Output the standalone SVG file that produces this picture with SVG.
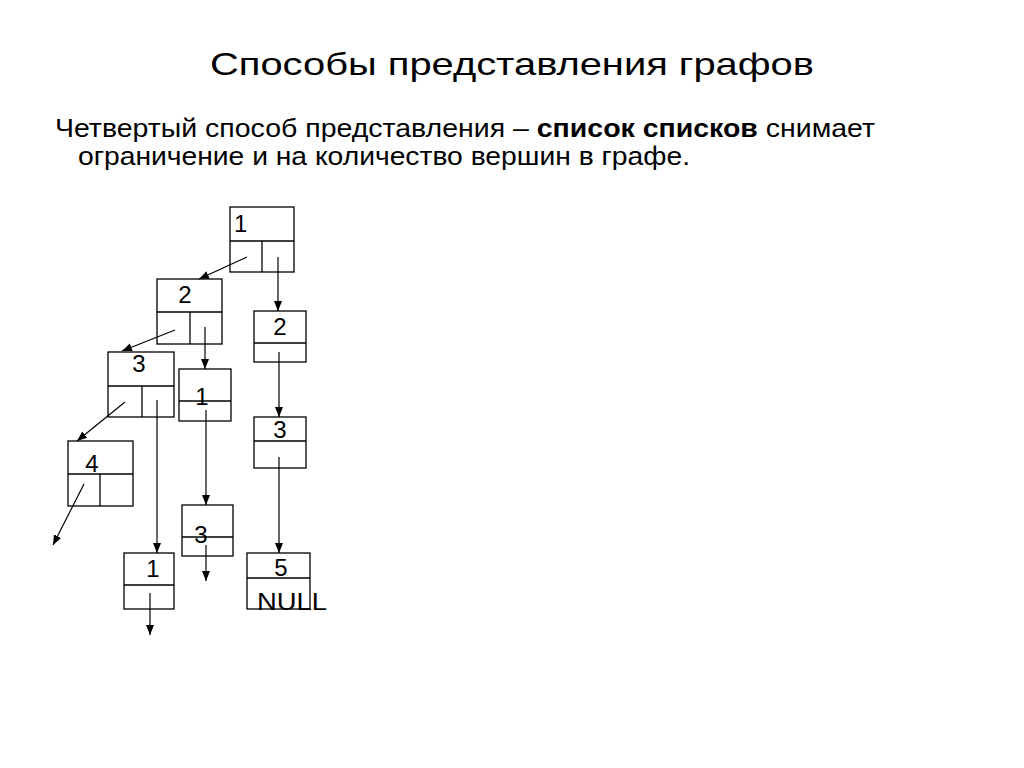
<svg xmlns="http://www.w3.org/2000/svg" width="1024" height="768" viewBox="0 0 1024 768">
<style>
text{font-family:"Liberation Sans",Arial,sans-serif;fill:#000}
.box{fill:#fff;stroke:#000;stroke-width:1.3}
.ln{stroke:#000;stroke-width:1.3;fill:none}
.lbl{font-size:24px}
.c{stroke:#000;stroke-width:1.2;fill:none;marker-end:url(#ah)}
</style>
<defs>
<marker id="ah" markerWidth="10" markerHeight="10" viewBox="0 0 10 10" refX="10" refY="5" orient="auto" markerUnits="userSpaceOnUse">
<path d="M0,1 L10,5 L0,9 Z" fill="#000"/>
</marker>
</defs>
<rect width="1024" height="768" fill="#fff"/>
<text x="512" y="75" font-size="32" text-anchor="middle" textLength="604" lengthAdjust="spacingAndGlyphs">Способы представления графов</text>
<text x="55" y="137" font-size="25" textLength="820" lengthAdjust="spacingAndGlyphs">Четвертый способ представления – <tspan font-weight="bold">список списков</tspan> снимает</text>
<text x="78" y="165" font-size="25" textLength="612" lengthAdjust="spacingAndGlyphs">ограничение и на количество вершин в графе.</text>

<g id="n1">
<rect class="box" x="230" y="207" width="64" height="65"/>
<line class="ln" x1="230" y1="241" x2="294" y2="241"/>
<line class="ln" x1="262" y1="241" x2="262" y2="272"/>
<text class="lbl" x="234" y="232">1</text>
</g>
<g id="n2a">
<rect class="box" x="157" y="279" width="65" height="65"/>
<line class="ln" x1="157" y1="312" x2="222" y2="312"/>
<line class="ln" x1="190" y1="312" x2="190" y2="344"/>
<text class="lbl" x="185" y="303" text-anchor="middle">2</text>
</g>
<g id="n2b">
<rect class="box" x="254" y="311" width="52" height="51"/>
<line class="ln" x1="254" y1="343" x2="306" y2="343"/>
<text class="lbl" x="280" y="335" text-anchor="middle">2</text>
</g>
<g id="n3b">
<rect class="box" x="254" y="417" width="52" height="51"/>
<line class="ln" x1="254" y1="441" x2="306" y2="441"/>
<text class="lbl" x="280" y="438" text-anchor="middle">3</text>
</g>
<g id="n3a">
<rect class="box" x="108" y="352" width="66" height="65"/>
<line class="ln" x1="108" y1="386" x2="174" y2="386"/>
<line class="ln" x1="142" y1="386" x2="142" y2="417"/>
<text class="lbl" x="139" y="372" text-anchor="middle">3</text>
</g>
<g id="n1b">
<rect class="box" x="179" y="369" width="52" height="52"/>
<line class="ln" x1="179" y1="401" x2="231" y2="401"/>
<text class="lbl" x="202" y="405" text-anchor="middle">1</text>
</g>
<g id="n4">
<rect class="box" x="68" y="441" width="65" height="65"/>
<line class="ln" x1="68" y1="474" x2="133" y2="474"/>
<line class="ln" x1="100" y1="474" x2="100" y2="506"/>
<text class="lbl" x="92" y="472" text-anchor="middle">4</text>
</g>
<g id="n3c">
<rect class="box" x="182" y="505" width="51" height="51"/>
<line class="ln" x1="182" y1="537" x2="233" y2="537"/>
<text class="lbl" x="201" y="543" text-anchor="middle">3</text>
</g>
<g id="n1c">
<rect class="box" x="124" y="553" width="50" height="56"/>
<line class="ln" x1="124" y1="585" x2="174" y2="585"/>
<text class="lbl" x="153" y="577" text-anchor="middle">1</text>
</g>
<g id="n5">
<rect class="box" x="247" y="553" width="63" height="56"/>
<line class="ln" x1="247" y1="578" x2="310" y2="578"/>
<text class="lbl" x="281" y="576" text-anchor="middle">5</text>
<text class="lbl" x="257" y="610" textLength="70" lengthAdjust="spacingAndGlyphs">NULL</text>
</g>

<g id="connectors">
<line class="c" x1="247" y1="257" x2="199" y2="279"/>
<line class="c" x1="278" y1="257" x2="278" y2="311"/>
<line class="c" x1="175" y1="330" x2="122" y2="351"/>
<line class="c" x1="205" y1="327" x2="205" y2="369"/>
<line class="c" x1="279" y1="352" x2="279" y2="417"/>
<line class="c" x1="279" y1="457" x2="279" y2="553"/>
<line class="c" x1="125" y1="402" x2="77" y2="441"/>
<line class="c" x1="157" y1="400" x2="157" y2="553"/>
<line class="c" x1="206" y1="410" x2="206" y2="505"/>
<line class="c" x1="84" y1="484" x2="53" y2="545"/>
<line class="c" x1="206" y1="545" x2="206" y2="581"/>
<line class="c" x1="150" y1="593" x2="150" y2="635"/>
</g>
</svg>
